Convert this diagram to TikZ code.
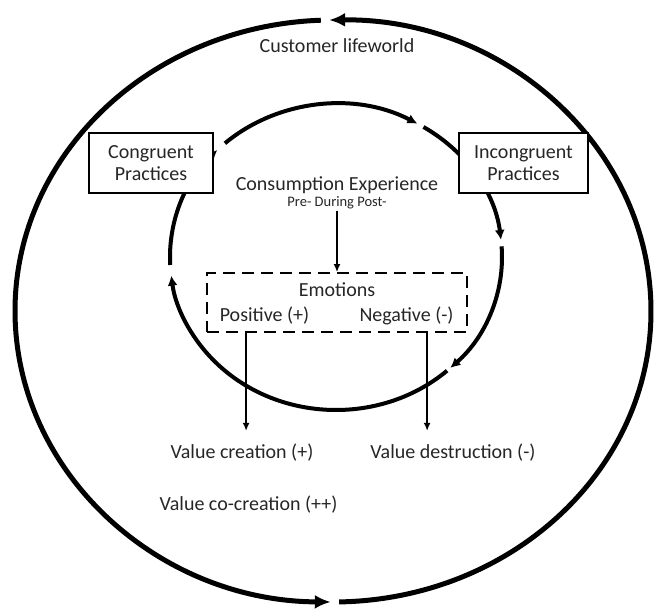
\documentclass[tikz,border=0pt]{standalone}
\usepackage{fontspec}
\setmainfont{Carlito}
\usetikzlibrary{positioning,calc,arrows.meta}

\begin{document}
\begin{tikzpicture}[
    x=1pt,y=-1pt,
    font=\fontsize{20}{22.5}\selectfont,
    text=black!85
  ]
\useasboundingbox (0,0) rectangle (656,609);

\def\orx{318}
\def\ory{291}
\def\irx{166}
\def\iry{153}

\coordinate (outer) at (333,311);
\coordinate (inner) at (336,257);

\tikzstyle{bigring}=[line width=5pt,-{Latex[length=16pt,width=14pt]},x radius=\orx,y radius=\ory];
\tikzstyle{ring}=[line width=4pt,-{Latex[length=10pt,width=10pt]},x radius=\irx,y radius=\iry];
\tikzstyle{flow}=[line width=1.8pt,-{Latex[length=8pt,width=7pt]}];
\tikzstyle{practice}=[draw,line width=1.8pt,fill=white,align=center,minimum height=60,inner sep=0pt];
\tikzstyle{lbl}=[anchor=base,inner sep=1pt];

% customer lifeworld
\draw[bigring] (outer) ++(88.9:318 and 291) arc[start angle=88.9,end angle=-90.7];
\draw[bigring] (outer) ++(-92.2:318 and 291) arc[start angle=-92.2,end angle=-269.6];

% consumption cycle
\draw[ring] (inner) ++(48:166 and 153) arc[start angle=48,end angle=173];
\draw[ring] (inner) ++(177:166 and 153) arc[start angle=177,end angle=224.4];
\draw[ring] (inner) ++(228:166 and 153) arc[start angle=228,end angle=299.4];
\draw[ring] (inner) ++(301.8:166 and 153) arc[start angle=301.8,end angle=353.6];
\draw[ring] (inner) ++(356:166 and 153) arc[start angle=356,end angle=406.5];

\node[lbl] (world) at (337,53) {Customer lifeworld};

\node[practice,minimum width=124] (cong) at (151,163) {Congruent\\Practices};
\node[practice,minimum width=129] (incong) at (523.5,163) {Incongruent\\Practices};

\node[lbl] (cexp) at (337,191) {Consumption Experience};
\node[lbl,font=\fontsize{14.5}{16}\selectfont] (pdp) at (337,207) {Pre- During Post-};

\node[draw,line width=1.8pt,dash pattern=on 12pt off 7pt,minimum width=260,minimum height=59,inner sep=0pt] (emo) at (337,302.5) {};
\node[lbl] (emot) at (337,297) {Emotions};
\node[lbl] (pos) at (264.5,322) {Positive (+)};
\node[lbl] (neg) at (406.5,322) {Negative (-)};

\node[lbl] (vcre) at (242,458) {Value creation (+)};
\node[lbl] (vdes) at (453,458) {Value destruction (-)};
\node[lbl] (vco) at (248.5,510) {Value co-creation (++)};

\coordinate (posdrop) at ($ (emo.south west) + (40,98) $);
\coordinate (negdrop) at ($ (emo.south west) + (221,98) $);

\draw[flow] (pdp.south) -- (emo.north);
\draw[flow] (emo.south -| posdrop) -- (posdrop);
\draw[flow] (emo.south -| negdrop) -- (negdrop);

\end{tikzpicture}
\end{document}
